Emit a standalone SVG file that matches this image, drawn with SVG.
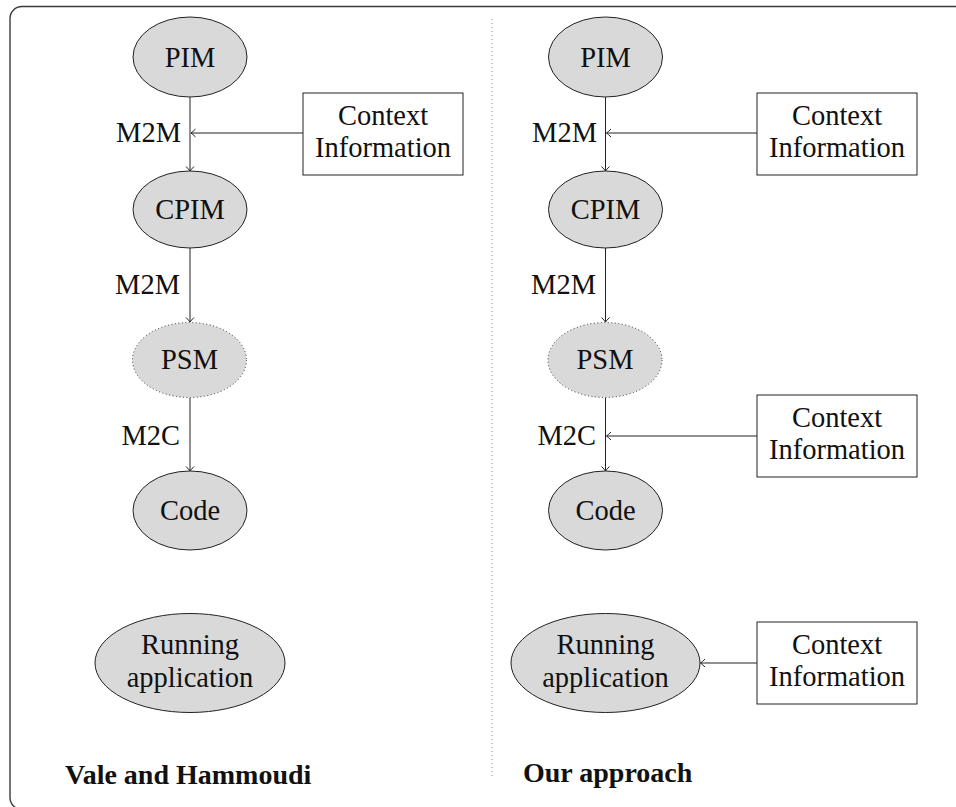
<svg xmlns="http://www.w3.org/2000/svg" width="956" height="807" viewBox="0 0 956 807">
  <style>
    .frame { fill: none; stroke: #3a3a3a; stroke-width: 1.4; }
    .divider { stroke: #888; stroke-width: 1; stroke-dasharray: 1 3; }
    .model { fill: #d9d9d9; stroke: #222; stroke-width: 1; }
    .model.dotted { stroke: #333; stroke-dasharray: 1 2.5; }
    .ctx { fill: #fff; stroke: #222; stroke-width: 1; }
    .edge { fill: none; stroke: #222; stroke-width: 1; marker-end: url(#to); }
    text { font-family: "Liberation Serif", "Times New Roman", serif; font-size: 28.5px; fill: #111; }
    .mid { text-anchor: middle; }
    .lbl { text-anchor: end; }
    .title { font-weight: bold; font-size: 28px; }
  </style>
  <defs>
    <marker id="to" viewBox="-6 -5 7 10" markerWidth="7" markerHeight="10" refX="0" refY="0" orient="auto" markerUnits="userSpaceOnUse">
      <path d="M -4.5 -4 Q -1.5 -1 0 0 Q -1.5 1 -4.5 4" fill="none" stroke="#222" stroke-width="1"/>
    </marker>
  </defs>

  <rect class="frame" x="10" y="6.5" width="1000" height="803" rx="12" ry="12"/>
  <line class="divider" x1="492" y1="19" x2="492" y2="778"/>

  <g id="connectors">
    <!-- left chain -->
    <line class="edge" x1="190" y1="97" x2="190" y2="171"/>
    <line class="edge" x1="303" y1="133" x2="191" y2="133"/>
    <line class="edge" x1="190" y1="248" x2="190" y2="322"/>
    <line class="edge" x1="190" y1="398" x2="190" y2="471"/>
    <!-- right chain -->
    <line class="edge" x1="605.5" y1="97" x2="605.5" y2="171"/>
    <line class="edge" x1="757" y1="133" x2="606.5" y2="133"/>
    <line class="edge" x1="605.5" y1="248" x2="605.5" y2="322"/>
    <line class="edge" x1="605.5" y1="398" x2="605.5" y2="471"/>
    <line class="edge" x1="757" y1="436" x2="606.5" y2="436"/>
    <line class="edge" x1="757" y1="663" x2="700.5" y2="663"/>
  </g>

  <g id="edge-labels">
    <text class="lbl" x="181" y="142">M2M</text>
    <text class="lbl" x="180" y="294">M2M</text>
    <text class="lbl" x="180" y="445">M2C</text>
    <text class="lbl" x="597" y="142">M2M</text>
    <text class="lbl" x="596" y="294">M2M</text>
    <text class="lbl" x="596" y="445">M2C</text>
  </g>

  <!-- left side: Vale and Hammoudi -->
  <g id="l-pim">
    <ellipse class="model" cx="190" cy="57" rx="57" ry="40"/>
    <text class="mid" x="190" y="67">PIM</text>
  </g>
  <g id="l-ctx">
    <rect class="ctx" x="303" y="93" width="160" height="82"/>
    <text class="mid" x="383" y="125">Context</text>
    <text class="mid" x="383" y="157">Information</text>
  </g>
  <g id="l-cpim">
    <ellipse class="model" cx="190" cy="209.5" rx="57" ry="38.5"/>
    <text class="mid" x="190" y="219">CPIM</text>
  </g>
  <g id="l-psm">
    <ellipse class="model dotted" cx="189.5" cy="360" rx="57" ry="37.5"/>
    <text class="mid" x="189.5" y="369">PSM</text>
  </g>
  <g id="l-code">
    <ellipse class="model" cx="190" cy="510.5" rx="57" ry="39.5"/>
    <text class="mid" x="190" y="520">Code</text>
  </g>
  <g id="l-run">
    <ellipse class="model" cx="190" cy="663" rx="95" ry="49.5"/>
    <text class="mid" x="190" y="654">Running</text>
    <text class="mid" x="190" y="687">application</text>
  </g>
  <g id="l-title">
    <text class="title" x="65" y="784">Vale and Hammoudi</text>
  </g>

  <!-- right side: Our approach -->
  <g id="r-pim">
    <ellipse class="model" cx="605.5" cy="57" rx="57" ry="40"/>
    <text class="mid" x="605.5" y="67">PIM</text>
  </g>
  <g id="r-ctx1">
    <rect class="ctx" x="757" y="93" width="160" height="82"/>
    <text class="mid" x="837" y="125">Context</text>
    <text class="mid" x="837" y="157">Information</text>
  </g>
  <g id="r-cpim">
    <ellipse class="model" cx="605.5" cy="209.5" rx="57" ry="38.5"/>
    <text class="mid" x="605.5" y="219">CPIM</text>
  </g>
  <g id="r-psm">
    <ellipse class="model dotted" cx="605" cy="360" rx="57" ry="37.5"/>
    <text class="mid" x="605" y="369">PSM</text>
  </g>
  <g id="r-ctx2">
    <rect class="ctx" x="757" y="395" width="160" height="82"/>
    <text class="mid" x="837" y="427">Context</text>
    <text class="mid" x="837" y="459">Information</text>
  </g>
  <g id="r-code">
    <ellipse class="model" cx="605.5" cy="510.5" rx="57" ry="39.5"/>
    <text class="mid" x="605.5" y="520">Code</text>
  </g>
  <g id="r-run">
    <ellipse class="model" cx="605.5" cy="663" rx="94.5" ry="49.5"/>
    <text class="mid" x="605.5" y="654">Running</text>
    <text class="mid" x="605.5" y="687">application</text>
  </g>
  <g id="r-ctx3">
    <rect class="ctx" x="757" y="622" width="160" height="82"/>
    <text class="mid" x="837" y="654">Context</text>
    <text class="mid" x="837" y="686">Information</text>
  </g>
  <g id="r-title">
    <text class="title" x="523" y="782">Our approach</text>
  </g>
</svg>
